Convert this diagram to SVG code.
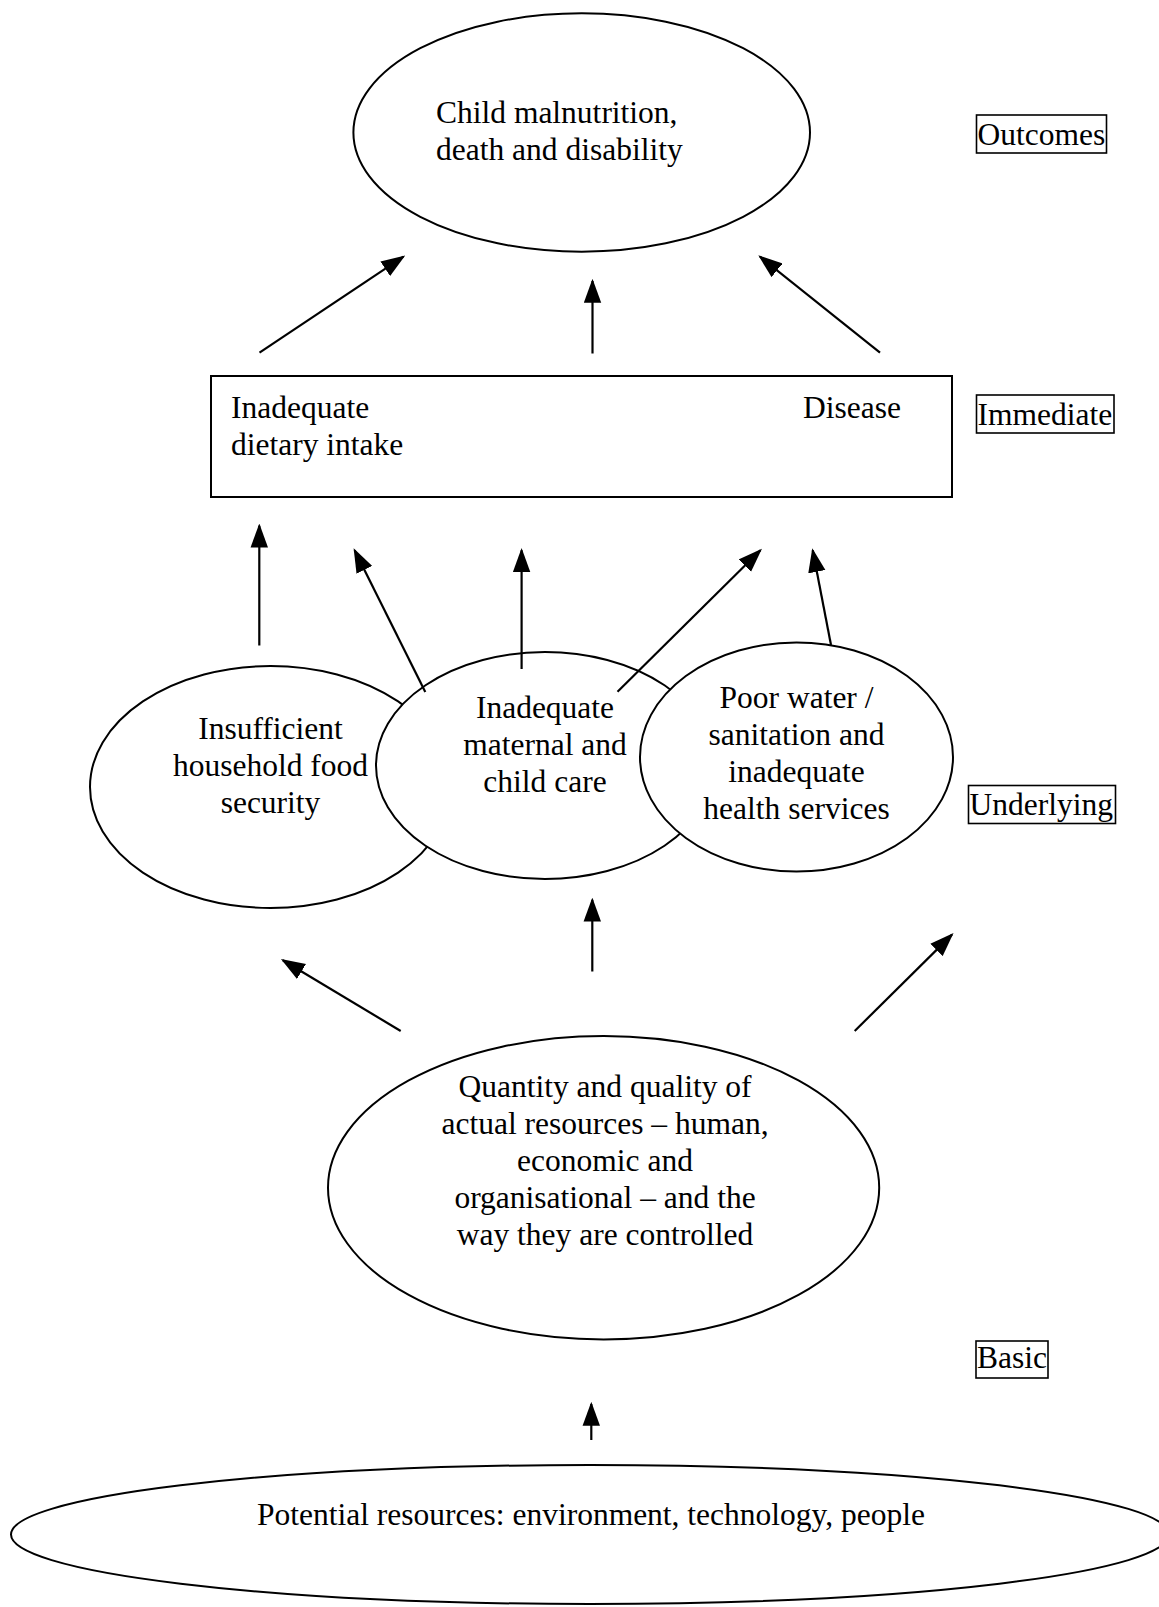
<svg xmlns="http://www.w3.org/2000/svg" width="1159" height="1607" viewBox="0 0 1159 1607">
<style>
text{font-family:"Liberation Serif","Times New Roman",serif;font-size:31.5px;fill:#000}
.shape{fill:#fff;stroke:#000;stroke-width:2}
.lbl{fill:none;stroke:#000;stroke-width:1.6}
.c{text-anchor:middle}
.con line{stroke:#000;stroke-width:2.2;marker-end:url(#ah)}
</style>
<defs>
<marker id="ah" markerUnits="userSpaceOnUse" markerWidth="24" markerHeight="18" viewBox="0 0 22 16" refX="20" refY="8" orient="auto">
<path d="M0,0 L22,8 L0,16 Z" fill="#000"/>
</marker>
</defs>
<rect width="1159" height="1607" fill="#fff"/>

<g id="outcome">
<ellipse class="shape" cx="581.7" cy="132.5" rx="228.3" ry="119.2"/>
<text x="436" y="123">Child malnutrition,</text>
<text x="436" y="160">death and disability</text>
</g>

<g id="immediate">
<rect class="shape" x="211" y="376" width="741" height="121"/>
<text x="231" y="418">Inadequate</text>
<text x="231" y="455">dietary intake</text>
<text x="803" y="418">Disease</text>
</g>

<g id="food">
<ellipse class="shape" cx="270.5" cy="787" rx="180.5" ry="121"/>
<text class="c" x="270.5" y="739">Insufficient</text>
<text class="c" x="270.5" y="776">household food</text>
<text class="c" x="270.5" y="813">security</text>
</g>

<g id="care">
<ellipse class="shape" cx="545" cy="765.5" rx="169" ry="113.5"/>
<text class="c" x="545" y="718">Inadequate</text>
<text class="c" x="545" y="755">maternal and</text>
<text class="c" x="545" y="792">child care</text>
</g>

<g id="water">
<ellipse class="shape" cx="796.5" cy="757" rx="156.5" ry="114.5"/>
<text class="c" x="796.5" y="708">Poor water /</text>
<text class="c" x="796.5" y="745">sanitation and</text>
<text class="c" x="796.5" y="782">inadequate</text>
<text class="c" x="796.5" y="819">health services</text>
</g>

<g id="basic">
<ellipse class="shape" cx="603.6" cy="1187.7" rx="275.6" ry="151.7"/>
<text class="c" x="605" y="1097">Quantity and quality of</text>
<text class="c" x="605" y="1134">actual resources – human,</text>
<text class="c" x="605" y="1171">economic and</text>
<text class="c" x="605" y="1208">organisational – and the</text>
<text class="c" x="605" y="1245">way they are controlled</text>
</g>

<g id="potential">
<ellipse class="shape" cx="590" cy="1534.5" rx="579" ry="69.5"/>
<text class="c" x="591" y="1525">Potential resources: environment, technology, people</text>
</g>

<g id="label-outcomes">
<rect class="lbl" x="976.5" y="115" width="130" height="38"/>
<text x="977.5" y="145">Outcomes</text>
</g>
<g id="label-immediate">
<rect class="lbl" x="976.5" y="395" width="137.5" height="38"/>
<text x="977.5" y="425">Immediate</text>
</g>
<g id="label-underlying">
<rect class="lbl" x="968.5" y="785.5" width="147" height="38"/>
<text x="969.5" y="815">Underlying</text>
</g>
<g id="label-basic">
<rect class="lbl" x="976" y="1341" width="72" height="37"/>
<text x="977" y="1368">Basic</text>
</g>

<g id="connectors" class="con">
<line x1="259.5" y1="352.7" x2="403.4" y2="256.7"/>
<line x1="592.5" y1="353.5" x2="592.5" y2="281"/>
<line x1="880" y1="352.7" x2="760" y2="256.7"/>
<line x1="259.3" y1="645.5" x2="259.3" y2="525.7"/>
<line x1="425.3" y1="692" x2="354.6" y2="550.3"/>
<line x1="521.6" y1="669" x2="521.6" y2="550.3"/>
<line x1="617.5" y1="691.7" x2="760.4" y2="550.3"/>
<line x1="831" y1="645" x2="812.7" y2="550.3"/>
<line x1="400.7" y1="1031" x2="282.8" y2="960.2"/>
<line x1="592.3" y1="971.5" x2="592.3" y2="899.8"/>
<line x1="854.7" y1="1031" x2="952" y2="934.6"/>
<line x1="591.3" y1="1440" x2="591.3" y2="1404"/>
</g>
</svg>
